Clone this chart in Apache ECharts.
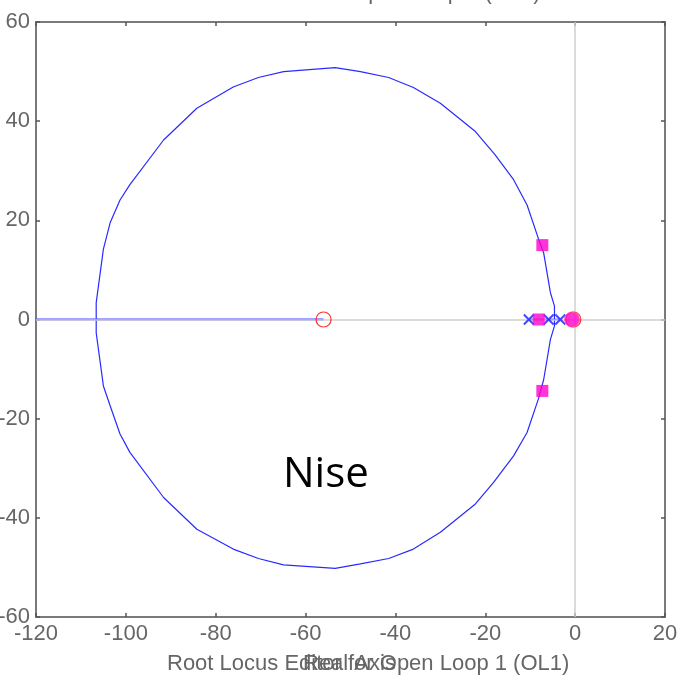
<!DOCTYPE html>
<html>
<head>
<meta charset="utf-8">
<script src="https://cdn.jsdelivr.net/npm/echarts@6/dist/echarts.min.js"></script>
<style>
  html, body { margin: 0; padding: 0; background: #fff; }
  #main { width: 679px; height: 677px; }
</style>
</head>
<body>
<div id="main"></div>
<script>
// upper / lower complex branches (real part, imag part)
const upperRe = [-4.6, -4.6, -5.5, -7.0, -8.1, -10.7, -13.7, -17.8, -22.2, -30.0, -36.0, -41.5, -47.8, -53.4, -64.9, -70.5, -76.1, -84.2, -91.6, -99.1, -101.3, -103.5, -105.0, -106.6, -106.6]
const upperIm = [0, 2.7, 5.4, 13.4, 16.1, 23.1, 28.2, 33.2, 37.9, 43.6, 46.8, 48.8, 50.0, 50.8, 50.0, 48.8, 46.9, 42.6, 36.2, 27.2, 24.1, 19.5, 14.2, 3.4, 0]
const lowerRe = [-4.6, -4.6, -5.5, -7.0, -8.1, -10.7, -13.7, -18.2, -22.2, -30.0, -36.0, -41.5, -47.8, -53.4, -64.9, -70.5, -76.1, -84.2, -91.6, -99.1, -101.3, -103.5, -105.0, -106.6, -106.6]
const lowerIm = [0, -1.3, -4.0, -12.1, -15.8, -22.8, -27.5, -32.9, -37.2, -42.9, -46.3, -48.2, -49.3, -50.2, -49.5, -48.2, -46.3, -42.3, -35.9, -26.8, -23.1, -17.4, -13.4, -2.7, 0]
// branches lying on the real axis
const realBranchLeft = [-120, -106.6, -56]
const realBranchNear = [-10.3, -3.3]

const poles = [-10.3, -5.9, -3.3]
const zeros = [-56, -0.4]
const closedLoopSquares = [[-7.3, 15.0], [-8.1, 0], [-7.3, -14.4]]
const closedLoopCircle = [[-0.7, 0]]

const xTicks = { min: -120, max: 20, step: 20 }
const yTicks = { min: -60, max: 60, step: 20 }

const toPairs = (re, im) => re.map((r, i) => [r, im[i]])
const onAxis = (re) => re.map(r => [r, 0])

const font = '"Liberation Sans", Arial, sans-serif'
const axisGrey = '#7a7a7a'
const blue = '#2a2aff'
const magenta = '#ff00cc'

let myChart = echarts.init(document.getElementById('main'))

const axisCommon = {
    axisLine: { show: true, onZero: false, lineStyle: { color: axisGrey, width: 2 } },
    axisTick: { show: true, inside: true, length: 4, lineStyle: { color: '#555', width: 1.5 } },
    splitLine: { show: false },
}

var option = {
    animation: false,
    backgroundColor: '#fff',
    grid: { left: 36, right: 14, top: 22, bottom: 60, outerBoundsMode: 'none', containLabel: false },
    xAxis: [
        Object.assign({}, axisCommon, {
            type: 'value', position: 'bottom',
            min: xTicks.min, max: xTicks.max, interval: xTicks.step,
            axisLabel: { color: '#666', fontSize: 22, fontFamily: font, margin: 6 },
        }),
        Object.assign({}, axisCommon, {
            type: 'value', position: 'top',
            min: xTicks.min, max: xTicks.max, interval: xTicks.step,
            axisLabel: { show: false },
        }),
    ],
    yAxis: [
        Object.assign({}, axisCommon, {
            type: 'value', position: 'left',
            min: yTicks.min, max: yTicks.max, interval: yTicks.step,
            axisLabel: { color: '#666', fontSize: 22, fontFamily: font, margin: 6 },
        }),
        Object.assign({}, axisCommon, {
            type: 'value', position: 'right',
            min: yTicks.min, max: yTicks.max, interval: yTicks.step,
            axisLabel: { show: false },
        }),
    ],
    graphic: [
        { // title, mostly cut off at the top
            type: 'text', left: 'center', x: 0, y: -18, z: 10,
            style: { text: 'Root Locus Editor for Open Loop 1 (OL1)', fill: '#666', font: '22px ' + font },
        },
        {
            type: 'text', left: 167, top: 653, z: 10,
            style: { text: 'Root Locus Editor for Open Loop 1 (OL1)', fill: '#666', font: '22px ' + font },
        },
        {
            type: 'text', left: 303, top: 653, z: 10,
            style: { text: 'Real Axis', fill: '#666', font: '22px ' + font },
        },
        {
            type: 'text', left: 283, top: 454, z: 10,
            style: { text: 'Nise', fill: '#000', font: '42px "Open Sans", sans-serif' },
        },
    ],
    series: [
        {
            name: 'zero lines', type: 'line', data: [], silent: true, z: 1,
            markLine: {
                silent: true, symbol: 'none', label: { show: false },
                lineStyle: { color: '#cfcfcf', type: 'solid', width: 1.5 },
                data: [{ xAxis: 0 }, { yAxis: 0 }],
            },
        },
        {
            name: 'upper', type: 'line', data: toPairs(upperRe, upperIm),
            showSymbol: false, lineStyle: { color: blue, width: 1.2 }, z: 3,
        },
        {
            name: 'lower', type: 'line', data: toPairs(lowerRe, lowerIm),
            showSymbol: false, lineStyle: { color: blue, width: 1.2 }, z: 3,
        },
        {
            name: 'real left', type: 'line', data: onAxis(realBranchLeft),
            showSymbol: false, lineStyle: { color: '#4848ff', width: 2 }, z: 3,
        },
        {
            name: 'real near', type: 'line', data: onAxis(realBranchNear),
            showSymbol: false, lineStyle: { color: blue, width: 1.5 }, z: 3,
        },
        {
            name: 'poles', type: 'scatter', data: onAxis(poles), z: 5,
            symbol: 'path://M0,0L10,10M10,0L0,10', symbolSize: 10,
            itemStyle: { color: 'none', borderColor: '#1a1aff', borderWidth: 2 },
        },
        {
            name: 'zeros', type: 'scatter', data: onAxis(zeros), z: 5,
            symbol: 'circle', symbolSize: 15,
            itemStyle: { color: 'rgba(0,0,0,0)', borderColor: '#ff0000', borderWidth: 1.2 },
        },
        {
            name: 'closed loop', type: 'scatter', data: closedLoopSquares, z: 6,
            symbol: 'rect', symbolSize: 12,
            itemStyle: { color: magenta },
        },
        {
            name: 'closed loop o', type: 'scatter', data: closedLoopCircle, z: 6,
            symbol: 'circle', symbolSize: 15,
            itemStyle: { color: magenta, borderColor: '#ff6699', borderWidth: 1 },
        },
    ]
};
myChart.setOption(option);
</script>
</body>
</html>
